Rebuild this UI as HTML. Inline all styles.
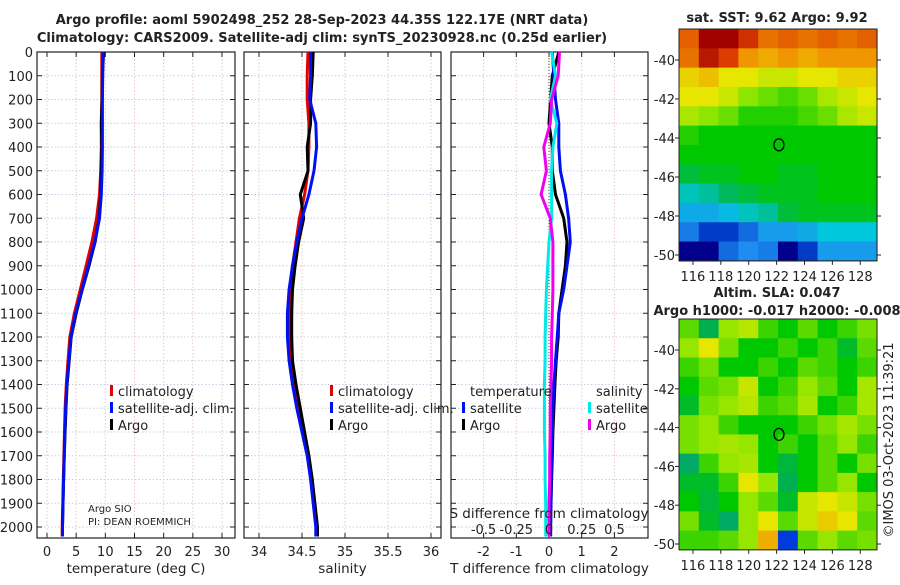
<!DOCTYPE html>
<html><head><meta charset="utf-8"><style>
body{margin:0;background:#fff}
svg text{font-family:"DejaVu Sans","Liberation Sans",sans-serif;fill:#222}
</style></head><body>
<svg id="c" width="900" height="580" xmlns="http://www.w3.org/2000/svg">
<text x="322" y="24" font-size="13" font-weight="bold" text-anchor="middle">Argo profile: aoml 5902498_252 28-Sep-2023 44.35S 122.17E (NRT data)</text>
<text x="322" y="42" font-size="13" font-weight="bold" text-anchor="middle">Climatology: CARS2009. Satellite-adj clim: synTS_20230928.nc (0.25d earlier)</text>
<text x="777" y="22" font-size="13" font-weight="bold" text-anchor="middle">sat. SST: 9.62 Argo: 9.92</text>
<text x="777" y="297" font-size="13" font-weight="bold" text-anchor="middle">Altim. SLA: 0.047</text>
<text x="777" y="315" font-size="13" font-weight="bold" text-anchor="middle">Argo h1000: -0.017 h2000: -0.008</text>
<text transform="translate(893,440) rotate(-90)" font-size="13" text-anchor="middle">©IMOS 03-Oct-2023 11:39:21</text>
<g id="g"></g>
</svg>
<script>
const depths=[0,100,200,300,400,500,600,700,800,900,1000,1100,1200,1300,1400,1500,1600,1700,1800,1900,2000,2040];
const tClim=[9.4,9.4,9.4,9.3,9.3,9.2,9.0,8.5,7.7,6.7,5.7,4.7,3.9,3.6,3.3,3.1,3.0,2.9,2.8,2.7,2.6,2.6];
const tSat=[9.6,9.55,9.5,9.5,9.5,9.45,9.3,9.0,8.2,7.1,6.0,4.9,4.1,3.75,3.4,3.2,3.05,2.95,2.85,2.75,2.65,2.65];
const tArgo=[9.7,9.5,9.45,9.3,9.4,9.3,9.2,8.95,8.25,7.2,6.05,5.0,4.15,3.8,3.45,3.25,3.1,2.97,2.85,2.75,2.65,2.65];
const sClim=[34.57,34.56,34.56,34.58,34.58,34.57,34.53,34.47,34.43,34.39,34.36,34.35,34.35,34.37,34.41,34.46,34.52,34.57,34.61,34.64,34.67,34.67];
const sSat=[34.6,34.6,34.59,34.66,34.67,34.64,34.58,34.5,34.44,34.39,34.35,34.33,34.33,34.35,34.39,34.44,34.5,34.56,34.6,34.63,34.66,34.66];
const sArgo=[34.63,34.62,34.6,34.6,34.56,34.57,34.48,34.52,34.46,34.42,34.39,34.38,34.38,34.39,34.43,34.48,34.53,34.58,34.62,34.65,34.68,34.68];
const dTSat=[0.1,0.15,0.2,0.3,0.3,0.35,0.5,0.6,0.65,0.55,0.45,0.3,0.25,0.2,0.15,0.12,0.1,0.08,0.07,0.06,0.05,0.05];
const dTArgo=[0.3,0.1,0.05,0.0,0.1,0.1,0.2,0.45,0.55,0.5,0.4,0.3,0.28,0.22,0.18,0.15,0.12,0.1,0.08,0.06,0.05,0.05];
const dSSat=[0.02,0.05,0.01,0.06,0.03,0.02,0.02,0.02,0.0,-0.01,-0.02,-0.025,-0.03,-0.03,-0.035,-0.035,-0.035,-0.03,-0.03,-0.025,-0.025,-0.025];
const dSArgo=[0.08,0.07,0.02,0.01,-0.04,-0.02,-0.06,0.01,0.03,0.03,0.03,0.025,0.02,0.02,0.015,0.01,0.01,0.005,0.005,0.0,0.0,0.0];
const yTicks=[0,100,200,300,400,500,600,700,800,900,1000,1100,1200,1300,1400,1500,1600,1700,1800,1900,2000];
const tTicks=[0,5,10,15,20,25,30];
const sTicks=[34,34.5,35,35.5,36];
const dTTicks=[-2,-1,0,1,2];
const dSTicks=[-0.5,-0.25,0,0.25,0.5];
const dSLabels=["-0.5","-0.25","0","0.25","0.5"];
const sstGrid=[
[11.3,12,12,11.6,11.2,11.3,11.2,11.3,11.2,11.3],
[11.2,11.8,11.5,11,10.9,11,10.9,11,11,11],
[10.7,10.8,10.6,10.6,10.5,10.5,10.6,10.6,10.7,10.7],
[10.6,10.6,10.5,10.3,10.2,10.1,10.2,10.4,10.5,10.6],
[10.4,10.3,10.2,10,10,10,10.1,10.2,10.4,10.5],
[10,9.9,9.9,9.9,9.9,9.9,9.9,9.9,9.9,9.9],
[9.9,9.9,9.9,9.9,9.9,9.9,9.9,9.9,9.9,9.9],
[9.7,9.8,9.8,9.9,9.9,9.8,9.8,9.9,9.9,9.9],
[9.3,9.4,9.6,9.7,9.8,9.8,9.8,9.9,9.9,9.9],
[9.0,9.0,9.1,9.3,9.4,9.7,9.8,9.8,9.8,9.8],
[8.7,8.3,8.3,8.6,8.9,8.9,9.0,9.2,9.2,9.2],
[7.8,7.8,8.6,8.8,8.7,7.8,8.3,8.9,8.9,8.9]];
const slaGrid=[
[0.03,-0.04,0.05,0.07,0.02,0,0.03,0,0.02,0.04],
[0.05,0.1,0.04,0,0,0.02,0,0.02,-0.02,0.03],
[0.02,0.04,0,0,0.02,0,0.03,0.02,0,0.02],
[0,0.03,0.04,0.08,0,0.02,0.05,0.03,0,0.06],
[-0.02,0.04,0.05,0.07,0.02,0.03,0.06,0,0.02,0.06],
[0.04,0.05,0.02,0,0,0,0.02,0.04,0.06,0.04],
[0.04,0.05,0.06,0.05,0,0.02,0,0.03,0.05,0.02],
[-0.05,0.02,0.05,0.06,0,-0.03,0,0.03,0,0.04],
[-0.02,-0.02,0.02,0.1,0.05,-0.04,0,0.03,0.05,0],
[0,-0.03,0,0.05,0.03,-0.02,0.08,0.1,0.08,0.04],
[0.04,-0.02,-0.05,0.05,0.1,0.03,0.08,0.12,0.1,0.03],
[0.02,0.02,0.03,0.05,0.14,-0.2,0.03,0.05,0.03,0.04]];
const lonTicks=[116,118,120,122,124,126,128];
const latTicks=[-40,-42,-44,-46,-48,-50];
const argoLon=122.17, argoLat=-44.35;

const NS="http://www.w3.org/2000/svg";
const G=document.getElementById('g');
function mk(tag,attrs,parent,txt){const e=document.createElementNS(NS,tag);for(const k in attrs)e.setAttribute(k,attrs[k]);if(txt!==undefined)e.textContent=txt;(parent||G).appendChild(e);return e;}
const Y=d=>52+d*0.2375;
const PB=538;
function lin(d0,d1,r0,r1){return v=>r0+(v-d0)*(r1-r0)/(d1-d0);}
const panels=[
 {x0:37,x1:235,xs:lin(0,30,47,222),ticks:tTicks,labels:tTicks.map(String),title:'temperature (deg C)',name:'temperature-panel'},
 {x0:244,x1:441,xs:lin(34,36,259,431),ticks:sTicks,labels:["34","34.5","35","35.5","36"],title:'salinity',name:'salinity-panel'},
 {x0:451,x1:648,xs:lin(0,1,549,581.7),ticks:dTTicks,labels:dTTicks.map(String),title:'T difference from climatology',name:'difference-panel'}];
const dsx=lin(0,1,549,680);
panels.forEach((p,pi)=>{
 const g=mk('g',{});
 
 
 yTicks.forEach(d=>{const l=mk('line',{x1:p.x0,x2:p.x1,y1:Y(d),y2:Y(d),stroke:'#c9cde6','stroke-dasharray':'1.5,2','stroke-width':1},g);
  
  mk('line',{x1:p.x0,x2:p.x0+5,y1:Y(d),y2:Y(d),stroke:'#222'},g);mk('line',{x1:p.x1-5,x2:p.x1,y1:Y(d),y2:Y(d),stroke:'#222'},g);});
 p.ticks.forEach((t,i)=>{const x=p.xs(t);const l=mk('line',{x1:x,x2:x,y1:52,y2:PB,stroke:'#e8c8c0','stroke-dasharray':'1.5,2'},g);
  
  mk('line',{x1:x,x2:x,y1:PB,y2:PB-5,stroke:'#222'},g);mk('line',{x1:x,x2:x,y1:52,y2:57,stroke:'#222'},g);
  const tl=mk('text',{x:x,y:556,'font-size':13,'text-anchor':'middle'},g,p.labels[i]);
  });
 const r=mk('rect',{x:p.x0,y:52,width:p.x1-p.x0,height:PB-52,fill:'none',stroke:'#222','stroke-width':1.2},g);
 
 const xt=mk('text',{x:(p.x0+p.x1)/2,y:573,'font-size':13.5,'text-anchor':'middle'},g,p.title);
 
});
yTicks.forEach(d=>{const t=mk('text',{x:33,y:Y(d)+5,'font-size':13,'text-anchor':'end'},G,String(d));
 });
function line(arr,xs,col,w,name){const pts=arr.map((v,i)=>xs(v).toFixed(1)+','+Y(depths[i]).toFixed(1)).join(' ');
 const e=mk('polyline',{points:pts,fill:'none',stroke:col,'stroke-width':w,'stroke-linejoin':'round'});
 }
const P=panels;
line(tClim,P[0].xs,'#e00000',3,'temperature-climatology-line');
line(tArgo,P[0].xs,'#000',3,'temperature-argo-line');
line(tSat,P[0].xs,'#0010f0',3,'temperature-satellite-line');
line(sClim,P[1].xs,'#e00000',3,'salinity-climatology-line');
line(sArgo,P[1].xs,'#000',3,'salinity-argo-line');
line(sSat,P[1].xs,'#0010f0',3,'salinity-satellite-line');
const z=mk('line',{x1:549,x2:549,y1:52,y2:PB,stroke:'#353',"stroke-dasharray":'1,2'});

line(dTArgo,P[2].xs,'#000',3,'t-diff-argo-line');
line(dTSat,P[2].xs,'#0010f0',3,'t-diff-satellite-line');
line(dSSat,dsx,'#00e8e8',3,'s-diff-satellite-line');
line(dSArgo,dsx,'#f000f0',3,'s-diff-argo-line');
const st=mk('text',{x:549,y:518,'font-size':13.5,'text-anchor':'middle'},G,'S difference from climatology');

dSTicks.forEach((t,i)=>{const e=mk('text',{x:dsx(t),y:534,'font-size':13,'text-anchor':'middle'},G,dSLabels[i]);
 });
function leg(x,y,col,txt,name,fs){const g=mk('g',{});
 if(col)mk('rect',{x:x-8,y:y-11,width:3,height:11,fill:col},g);mk('text',{x:x,y:y,'font-size':fs||13},g,txt);}
[118,338].forEach(x=>{
 leg(x,396,'#e00000','climatology','legend-climatology');
 leg(x,413,'#0010f0','satellite-adj. clim.','legend-satellite-adj');
 leg(x,430,'#000','Argo','legend-argo');});
leg(470,396,null,'temperature','legend-temperature-header');
leg(470,413,'#0010f0','satellite','legend-t-satellite');
leg(470,430,'#000','Argo','legend-t-argo');
leg(596,396,null,'salinity','legend-salinity-header');
leg(596,413,'#00e8e8','satellite','legend-s-satellite');
leg(596,430,'#f000f0','Argo','legend-s-argo');
leg(88,512,null,'Argo SIO','argo-sio-label',10);
leg(88,525,null,'PI: DEAN ROEMMICH','pi-label',10);
const sstStops=[[7.8,[0,0,140]],[8.3,[0,60,200]],[8.8,[30,140,240]],[9.2,[0,200,220]],[9.6,[0,185,90]],[9.9,[0,200,0]],[10.3,[140,230,0]],[10.6,[230,230,0]],[11.0,[240,150,0]],[11.5,[220,60,0]],[12,[160,0,0]]];
const slaStops=[[-0.2,[0,60,220]],[-0.1,[0,180,200]],[-0.05,[0,170,100]],[0,[0,200,0]],[0.05,[150,230,0]],[0.1,[230,230,0]],[0.15,[240,160,0]]];
function cmap(v,st){if(v<=st[0][0])return st[0][1];for(let i=1;i<st.length;i++){if(v<=st[i][0]){const f=(v-st[i-1][0])/(st[i][0]-st[i-1][0]);const a=st[i-1][1],b=st[i][1];return a.map((c,k)=>Math.round(c+(b[k]-c)*f));}}return st[st.length-1][1];}
function map(grid,stops,top,lat40,lat50,name){
 const x0=679,x1=877,lx=lin(115,129.2,x0,x1),ly=lin(-40,-50,lat40,lat50);
 const bot=ly(-50.3);const g=mk('g',{});
 const nr=grid.length,nc=grid[0].length,cw=(x1-x0)/nc,ch=(bot-top)/nr;
 grid.forEach((row,r)=>row.forEach((v,c)=>{const col=cmap(v,stops);
  const e=mk('rect',{x:x0+c*cw,y:top+r*ch,width:cw+0.6,height:ch+0.6,fill:'rgb('+col.join(',')+')'},g);
  }));
 mk('rect',{x:x0,y:top,width:x1-x0,height:bot-top,fill:'none',stroke:'#222'},g);
 latTicks.forEach(t=>{const y=ly(t);mk('line',{x1:x0-4,x2:x0,y1:y,y2:y,stroke:'#222'},g);mk('line',{x1:x1,x2:x1+4,y1:y,y2:y,stroke:'#222'},g);
  const e=mk('text',{x:x0-4,y:y+5,'font-size':13,'text-anchor':'end'},g,String(t));});
 lonTicks.forEach(t=>{const x=lx(t);mk('line',{x1:x,x2:x,y1:bot,y2:bot+4,stroke:'#222'},g);
  const e=mk('text',{x:x,y:bot+20,'font-size':13,'text-anchor':'middle'},g,String(t));});
 const m=mk('ellipse',{cx:lx(argoLon),cy:ly(argoLat),rx:5,ry:6,fill:'none',stroke:'#000','stroke-width':1.3},g);
 }
map(sstGrid,sstStops,29,60,255,'sst-map');
map(slaGrid,slaStops,319,350,544,'sla-map');
</script>
</body></html>
